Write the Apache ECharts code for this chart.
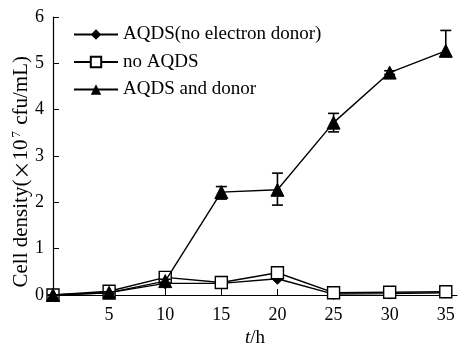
<!DOCTYPE html>
<html>
<head>
<meta charset="utf-8">
<script src="https://cdn.jsdelivr.net/npm/echarts@6/dist/echarts.min.js"></script>
<style>html,body{margin:0;padding:0;background:#fff}#c{width:466px;height:344px}</style>
</head>
<body>
<div id="c"></div>
<script>
// Sampling times (h)
const hours = [0, 5, 10, 15, 20, 25, 30, 35];
// Cell density, ×10^7 cfu/mL
const noDonor = [0, 0.05, 0.25, 0.25, 0.35, 0.02, 0.03, 0.05];
const noAqds = [0, 0.08, 0.38, 0.27, 0.48, 0.05, 0.06, 0.07];
const withDonor = [0, 0.05, 0.3, 2.22, 2.27, 3.72, 4.8, 5.27];
// Error bar extents for the AQDS + donor culture (below / above the mean)
const withDonorErrLow = [0, 0.02, 0.04, 0.15, 0.33, 0.2, 0.04, 0.1];
const withDonorErrHigh = [0, 0.02, 0.04, 0.12, 0.36, 0.2, 0.04, 0.44];
const yTicks = [0, 1, 2, 3, 4, 5, 6];

const font = '"Liberation Serif", "Times New Roman", serif';
const tickFs = 18;
const legendFs = 19;
const pairs = (ys) => hours.map((h, i) => [h, ys[i]]);

const errData = hours.map((h, i) => [h, withDonor[i] - withDonorErrLow[i], withDonor[i] + withDonorErrHigh[i]]);

const chart = echarts.init(document.getElementById('c'), null, {renderer: 'canvas'});
chart.setOption({
  animation: false,
  backgroundColor: '#fff',
  textStyle: {fontFamily: font, color: '#000'},
  grid: {left: 53, top: 17, width: 404, height: 278, containLabel: false, outerBoundsMode: 'none'},
  legend: {
    orient: 'vertical', left: 68, top: 20, itemGap: 8.5,
    itemWidth: 44, itemHeight: 13,
    textStyle: {fontFamily: font, fontSize: legendFs, color: '#000'},
    data: ['AQDS(no electron donor)', 'no AQDS', 'AQDS and donor']
  },
  graphic: [{
    type: 'text', left: 10, top: 56, rotation: Math.PI / 2,
    style: {
      text: '{n|Cell density(}{x|×}{n|10}{s|7}{n| cfu/mL)}',
      rich: {
        n: {fontFamily: font, fontSize: 21, fill: '#000'},
        x: {fontFamily: '"Noto Sans CJK SC"', fontSize: 19, fill: '#000'},
        s: {fontFamily: font, fontSize: 13, fill: '#000', verticalAlign: 'bottom', padding: [0, 1, 10, 2]}
      }
    }
  }],
  xAxis: {
    type: 'value', min: 0, max: 36, interval: 5,
    splitLine: {show: false},
    axisLine: {lineStyle: {color: '#000', width: 1.2}},
    axisTick: {inside: true, length: 6, lineStyle: {color: '#000'}},
    axisLabel: {fontFamily: font, fontSize: tickFs, color: '#000', margin: 11,
      formatter: v => (v === 0 ? '' : String(v))},
    name: '{i|t}{n|/h}', nameLocation: 'middle', nameGap: 32,
    nameTextStyle: {rich: {
      i: {fontFamily: font, fontSize: legendFs, fontStyle: 'italic', color: '#000'},
      n: {fontFamily: font, fontSize: legendFs, color: '#000'}
    }}
  },
  yAxis: {
    type: 'value', min: 0, max: 6, interval: 1,
    splitLine: {show: false},
    axisLine: {lineStyle: {color: '#000', width: 1.2}},
    axisTick: {inside: true, length: 6, lineStyle: {color: '#000'}},
    axisLabel: {fontFamily: font, fontSize: tickFs, color: '#000', margin: 9,
      formatter: v => (yTicks.includes(v) ? String(v) : '')}
  },
  series: [
    {
      name: 'AQDS(no electron donor)', type: 'line', data: pairs(noDonor),
      symbol: 'diamond', symbolSize: 11,
      lineStyle: {color: '#000', width: 1.4},
      itemStyle: {color: '#000', borderColor: '#000'}, z: 3
    },
    {
      name: 'no AQDS', type: 'line', data: pairs(noAqds),
      symbol: 'rect', symbolSize: 12,
      lineStyle: {color: '#000', width: 1.4},
      itemStyle: {color: '#fff', borderColor: '#000', borderWidth: 1.4}, z: 4
    },
    {
      name: 'AQDS and donor', type: 'line', data: pairs(withDonor),
      symbol: 'triangle', symbolSize: 13,
      lineStyle: {color: '#000', width: 1.4},
      itemStyle: {color: '#000', borderColor: '#000'}, z: 5
    },
    {
      name: 'err', type: 'custom', data: errData, z: 6,
      renderItem: (params, api) => {
        const lo = api.coord([api.value(0), api.value(1)]);
        const hi = api.coord([api.value(0), api.value(2)]);
        const w = 5.5;
        const st = {stroke: '#000', lineWidth: 1.6};
        return {type: 'group', children: [
          {type: 'line', shape: {x1: lo[0], y1: lo[1], x2: hi[0], y2: hi[1]}, style: st},
          {type: 'line', shape: {x1: lo[0] - w, y1: lo[1], x2: lo[0] + w, y2: lo[1]}, style: st},
          {type: 'line', shape: {x1: hi[0] - w, y1: hi[1], x2: hi[0] + w, y2: hi[1]}, style: st}
        ]};
      },
      encode: {x: 0, y: [1, 2]}
    }
  ]
});
</script>
</body>
</html>
